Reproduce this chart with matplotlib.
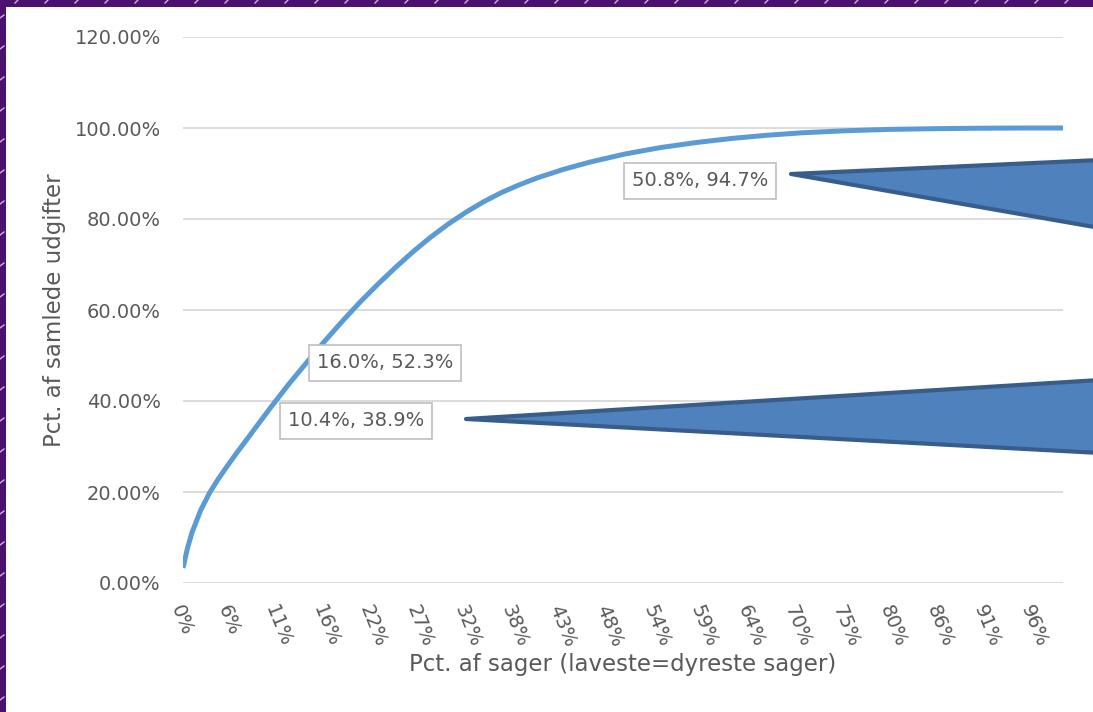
import numpy as np
import matplotlib
matplotlib.use('Agg')
import matplotlib.pyplot as plt
from matplotlib.patches import Polygon, Rectangle
from matplotlib.lines import Line2D

# Cumulative share of expenses vs share of cases (in %)
pct_cases = [0, 0.5, 1, 2, 3, 4, 5, 6, 8, 10, 12, 14, 16, 18, 20, 22, 24, 26, 28, 30,
             32, 34, 36, 38, 40, 43, 46, 50, 54, 58, 62, 66, 70, 75, 80, 85, 90, 95, 99.5]
pct_cost = [3.3, 7.6, 11.0, 16.0, 19.8, 22.9, 25.7, 28.4, 33.6, 38.8, 43.8, 48.5, 53.1,
            57.5, 61.7, 65.6, 69.3, 72.8, 76.0, 78.9, 81.5, 83.8, 85.8, 87.5, 89.0, 90.9,
            92.5, 94.3, 95.7, 96.8, 97.7, 98.4, 98.95, 99.4, 99.7, 99.85, 99.95, 100.0, 100.0]

x_tick_labels = ['0%', '6%', '11%', '16%', '22%', '27%', '32%', '38%', '43%', '48%',
                 '54%', '59%', '64%', '70%', '75%', '80%', '86%', '91%', '96%']
y_ticks = [0, 20, 40, 60, 80, 100, 120]

# Highlighted points (data labels)
label_pts = [(10.4, 38.9), (16.0, 52.3), (50.8, 94.7)]

W, H = 1093, 712
fig = plt.figure(figsize=(W / 100, H / 100), dpi=100)
fig.patch.set_facecolor('white')

def fx(px):
    return px / W

def fy(py):
    return 1 - py / H

ax = fig.add_axes([fx(183), fy(583), fx(1063) - fx(183), fy(37) - fy(583)])
ax.set_xlim(0, 99.5)
ax.set_ylim(0, 120)

txt = '#595959'
grid = '#D9D9D9'

for v in y_ticks:
    ax.axhline(v, color=grid, lw=1.3, zorder=1)
for s in ax.spines.values():
    s.set_visible(False)

ax.plot(pct_cases, pct_cost, color='#5B9BD5', lw=3.6, solid_capstyle='butt', zorder=3)

ax.set_yticks(y_ticks)
ax.set_yticklabels(['%.2f%%' % v for v in y_ticks])
ax.set_xticks(np.linspace(0.2, 96.3, len(x_tick_labels)))
ax.set_xticklabels(x_tick_labels, rotation=-68, ha='left', va='top',
                   rotation_mode='anchor')
ax.tick_params(axis='both', length=0, labelsize=14, colors=txt)
ax.tick_params(axis='y', pad=16)
ax.tick_params(axis='x', pad=14)

ax.set_xlabel('Pct. af sager (laveste=dyreste sager)', fontsize=16.5, color=txt, labelpad=2)
ax.set_ylabel('Pct. af samlede udgifter', fontsize=16.5, color=txt, labelpad=6)

# data labels
label_pos = [(356, 421), (385, 363), (700, 181)]
for (x, y), (px, py) in zip(label_pts, label_pos):
    ax.text(fx(px), fy(py), '%.1f%%, %.1f%%' % (x, y), transform=fig.transFigure,
            ha='center', va='center', fontsize=14, color=txt, zorder=5,
            bbox=dict(boxstyle='square,pad=0.42', fc='white', ec='#BFBFBF', lw=1.2))

# callout wedges extending off the right edge
wedges = [[(791, 174), (1100, 160), (1100, 228)],
          [(466, 419), (1100, 380), (1100, 453)]]
for w in wedges:
    fig.add_artist(Polygon([(fx(a), fy(b)) for a, b in w], closed=True,
                           transform=fig.transFigure, fc='#4F81BD', ec='#385D8A',
                           lw=3, joinstyle='round', zorder=10))

# purple frame with light dashes
purple = '#4B1070'
fig.add_artist(Rectangle((0, fy(7)), 1, 7 / H, transform=fig.transFigure,
                         fc=purple, ec='none', zorder=20))
fig.add_artist(Rectangle((0, 0), 6 / W, 1, transform=fig.transFigure,
                         fc=purple, ec='none', zorder=20))
for px in range(15, W, 30):
    fig.add_artist(Line2D([fx(px), fx(px + 3)], [fy(3), fy(0)], transform=fig.transFigure,
                          color='#C9B6D8', lw=1, zorder=21))
for py in range(15, H, 31):
    fig.add_artist(Line2D([fx(0), fx(4)], [fy(py + 3), fy(py)], transform=fig.transFigure,
                          color='#C9B6D8', lw=1, zorder=21))

fig.savefig('out.png', dpi=100)
